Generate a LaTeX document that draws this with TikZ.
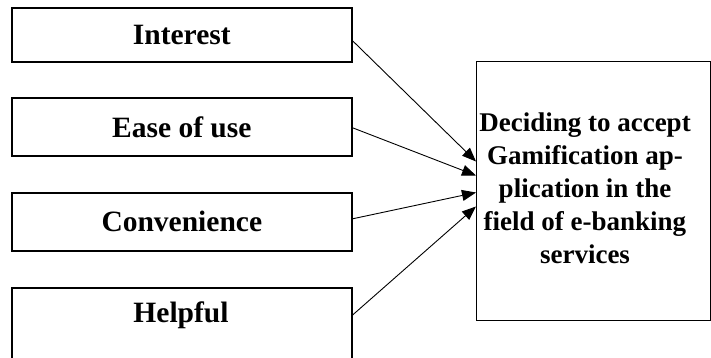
\documentclass[tikz,border=0pt]{standalone}
\usepackage{fontspec}
\setmainfont{Liberation Serif}
\usetikzlibrary{arrows.meta}
\begin{document}
\begin{tikzpicture}[x=1pt,y=-1pt,
  lbox/.style={draw, line width=1.6pt, minimum width=340pt, anchor=north west, inner sep=0pt},
  ltext/.style={font=\fontsize{29.5}{33}\selectfont\bfseries, inner sep=0pt},
  rtext/.style={font=\fontsize{27}{33}\selectfont\bfseries, align=center, inner sep=0pt},
  conn/.style={line width=0.9pt, -{Triangle[length=14pt,width=11pt]}}]
\useasboundingbox (0,0) rectangle (711,358);
\clip (0,0) rectangle (711,358);
\node[lbox, minimum height=54pt] (int) at (11,7) {};
\node[ltext] at (int.center) {Interest};
\node[lbox, minimum height=58pt] (ease) at (11,97) {};
\node[ltext] at (ease.center) {Ease of use};
\node[lbox, minimum height=58pt] (conv) at (11,192) {};
\node[ltext] at (conv.center) {Convenience};
\node[lbox, minimum height=100pt] (help) at (11,287) {};
\node[ltext] (helpt) at (181,315) {Helpful};
\node[draw, line width=1pt, minimum width=234pt, minimum height=259pt, anchor=north west, inner sep=0pt] (dec) at (476,61) {};
\node[rtext] at (585,188) {Deciding to accept\\Gamification ap-\\plication in the\\field of e-banking\\services};
\draw[conn] ([yshift=-6pt]int.east) -- ([yshift=29.5pt]dec.west);
\draw[conn] ([yshift=-1pt]ease.east) -- ([yshift=15.5pt]dec.west);
\draw[conn] ([yshift=3pt]conv.east) -- ([yshift=-1.5pt]dec.west);
\draw[conn] (help.east |- helpt) -- ([yshift=-15.5pt]dec.west);
\end{tikzpicture}
\end{document}
